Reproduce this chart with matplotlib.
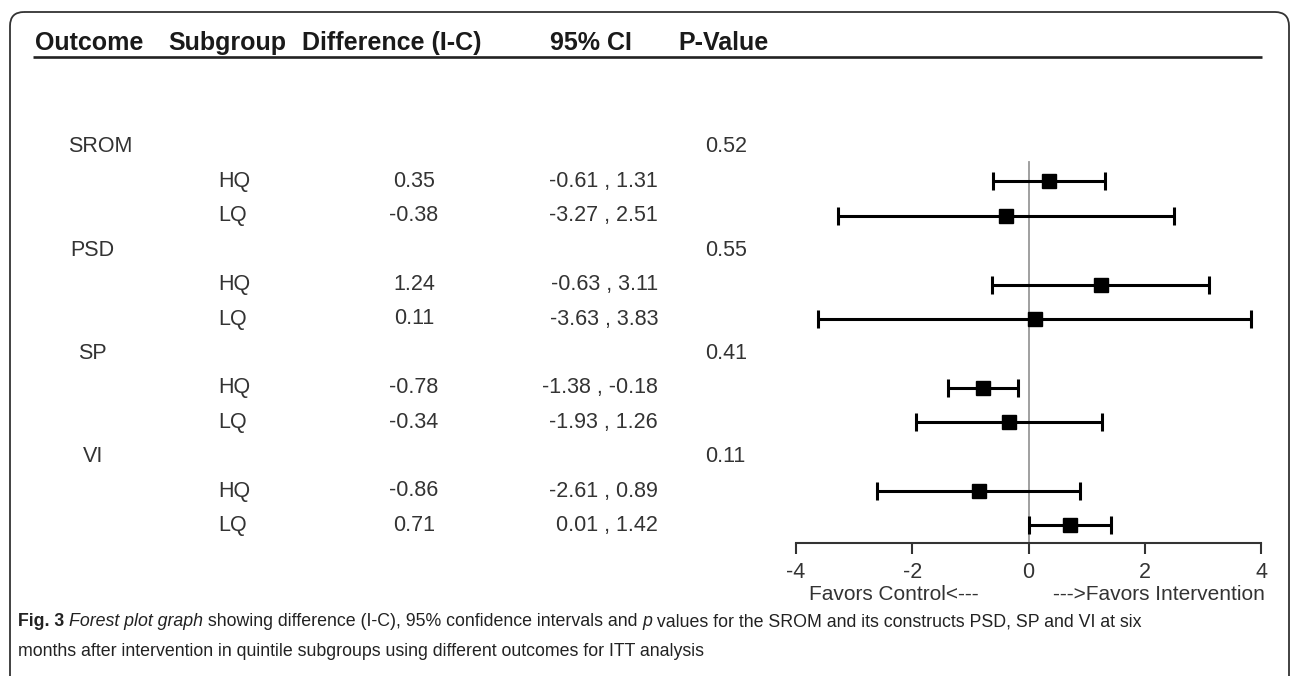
import matplotlib.pyplot as plt
from matplotlib.patches import FancyBboxPatch

# data
outcomes = ["SROM", "PSD", "SP", "VI"]
p_values = ["0.52", "0.55", "0.41", "0.11"]
subgroups = ["HQ", "LQ"]
diff = [[0.35, -0.38], [1.24, 0.11], [-0.78, -0.34], [-0.86, 0.71]]
ci_low = [[-0.61, -3.27], [-0.63, -3.63], [-1.38, -1.93], [-2.61, 0.01]]
ci_high = [[1.31, 2.51], [3.11, 3.83], [-0.18, 1.26], [0.89, 1.42]]
headers = ["Outcome", "Subgroup", "Difference (I-C)", "95% CI", "P-Value"]
xticks = [-4, -2, 0, 2, 4]

W, H = 1292, 676
fig = plt.figure(figsize=(W / 100, H / 100), dpi=100)
plt.rcParams['font.family'] = ['Liberation Sans', 'DejaVu Sans']

# overlay axes in pixel coordinates for the table part
bg = fig.add_axes([0, 0, 1, 1])
bg.set_xlim(0, W)
bg.set_ylim(H, 0)
bg.axis("off")

frame = FancyBboxPatch((10, 12), 1279, 700, boxstyle="round,pad=0,rounding_size=14",
                       fill=False, ec="#333333", lw=1.3)
bg.add_patch(frame)

txt = "#333333"
head_x = [35, 168, 302, 550, 678]
for hx, h in zip(head_x, headers):
    bg.text(hx, 43, h, fontsize=18, fontweight="bold", color="#1a1a1a", va="center", ha="left")
bg.plot([33, 1262], [57, 57], color="#222222", lw=1.9, solid_capstyle="butt")

row0, step = 147, 34.4
outcome_x = [68, 70, 78, 83]
rows_y = []
r = 0
for i, name in enumerate(outcomes):
    y = row0 + step * r
    bg.text(outcome_x[i], y, name, fontsize=15.5, color=txt, va="center")
    bg.text(705, y, p_values[i], fontsize=15.5, color=txt, va="center")
    r += 1
    for j, sg in enumerate(subgroups):
        y = row0 + step * r
        rows_y.append(r)
        bg.text(218, y, sg, fontsize=15.5, color=txt, va="center")
        bg.text(414, y, f"{diff[i][j]:.2f}", fontsize=15.5, color=txt, va="center", ha="center")
        bg.text(658, y, f"{ci_low[i][j]:.2f} , {ci_high[i][j]:.2f}", fontsize=15.5,
                color=txt, va="center", ha="right")
        r += 1

# forest plot axes
x0, x1, ytop, yax = 796, 1261, row0, 543
ax = fig.add_axes([x0 / W, 1 - yax / H, (x1 - x0) / W, (yax - ytop) / H])
ax.patch.set_alpha(0)
ax.set_xlim(-4, 4)
ax.set_ylim((yax - row0) / step, 0)
for s in ["top", "right", "left"]:
    ax.spines[s].set_visible(False)
ax.spines["bottom"].set_linewidth(1.5)
ax.spines["bottom"].set_color("#333333")
ax.set_yticks([])
ax.set_xticks(xticks)
ax.set_xticklabels([str(t) for t in xticks], fontsize=15.5, color=txt)
ax.tick_params(axis="x", length=8, width=1.5, color="#333333", pad=6)

ax.axvline(0, ymin=0, ymax=(yax - 162) / (yax - ytop), color="#999999", lw=1.3, zorder=1)

k = 0
for i in range(len(outcomes)):
    for j in range(len(subgroups)):
        d = diff[i][j]
        ax.errorbar(d, rows_y[k], xerr=[[d - ci_low[i][j]], [ci_high[i][j] - d]],
                    fmt="s", color="black", ms=10, lw=2.2, capsize=6.5, capthick=2.2, zorder=3)
        k += 1

bg.text(809, 594, "Favors Control<---", fontsize=15, color=txt, va="center", ha="left")
bg.text(1053, 594, "--->Favors Intervention", fontsize=15, color=txt, va="center", ha="left")

# caption with mixed styles
fig.canvas.draw()
renderer = fig.canvas.get_renderer()
pieces = [("Fig. 3", "normal", "bold"), (" ", "normal", "normal"),
          ("Forest plot graph", "italic", "normal"),
          (" showing difference (I-C), 95% confidence intervals and ", "normal", "normal"),
          ("p", "italic", "normal"),
          (" values for the SROM and its constructs PSD, SP and VI at six", "normal", "normal")]
cx = 18
for s, style, weight in pieces:
    t = fig.text(cx / W, 1 - 622 / H, s, fontsize=12.8, style=style,
                 fontweight=weight, color="#222222", va="center", ha="left")
    cx += t.get_window_extent(renderer).width
fig.text(18 / W, 1 - 651 / H,
         "months after intervention in quintile subgroups using different outcomes for ITT analysis",
         fontsize=12.8, color="#222222", va="center", ha="left")

fig.savefig("out.png", dpi=100)
